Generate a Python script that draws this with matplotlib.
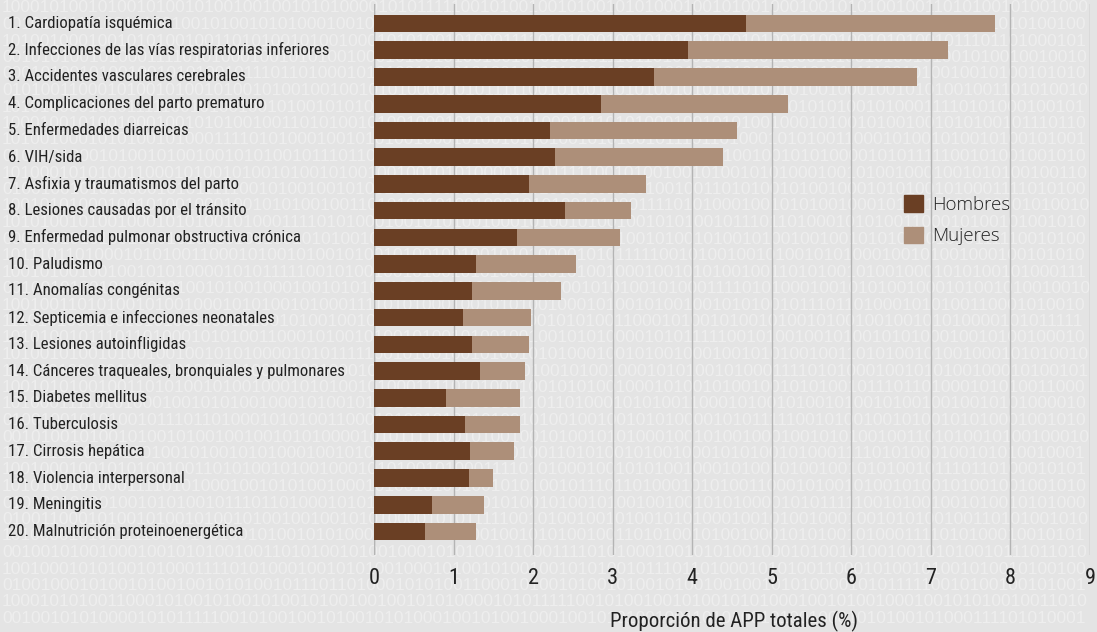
import matplotlib
matplotlib.use("Agg")
import matplotlib.pyplot as plt
import matplotlib.transforms as mtransforms
from matplotlib.patches import Patch

causas = [
    "1. Cardiopatía isquémica",
    "2. Infecciones de las vías respiratorias inferiores",
    "3. Accidentes vasculares cerebrales",
    "4. Complicaciones del parto prematuro",
    "5. Enfermedades diarreicas",
    "6. VIH/sida",
    "7. Asfixia y traumatismos del parto",
    "8. Lesiones causadas por el tránsito",
    "9. Enfermedad pulmonar obstructiva crónica",
    "10. Paludismo",
    "11. Anomalías congénitas",
    "12. Septicemia e infecciones neonatales",
    "13. Lesiones autoinfligidas",
    "14. Cánceres traqueales, bronquiales y pulmonares",
    "15. Diabetes mellitus",
    "16. Tuberculosis",
    "17. Cirrosis hepática",
    "18. Violencia interpersonal",
    "19. Meningitis",
    "20. Malnutrición proteinoenergética",
]
hombres = [4.67, 3.95, 3.52, 2.85, 2.21, 2.27, 1.95, 2.40, 1.80, 1.28,
           1.23, 1.12, 1.23, 1.33, 0.91, 1.14, 1.21, 1.19, 0.73, 0.64]
total = [7.81, 7.22, 6.82, 5.20, 4.56, 4.39, 3.42, 3.23, 3.09, 2.54,
         2.35, 1.97, 1.95, 1.90, 1.83, 1.83, 1.76, 1.50, 1.38, 1.28]
mujeres = [t - h for t, h in zip(total, hombres)]
ticks = list(range(10))

c_hom = "#6a3f24"
c_muj = "#ad8f79"
cond = ["Roboto Condensed", "DejaVu Sans"]
txt_col = "#222222"

fig = plt.figure(figsize=(10.97, 6.32), dpi=100, facecolor="#e4e4e4")

# fondo de ceros y unos
bits = ("1000101001010010100101001001001010100001010111110010100100101001"
        "0101000100101001000100101010010011010100101001000101010010100011"
        "1101010001001010100100010100101001001010100101110110100010101001")
for i in range(38):
    off = (i * 37) % len(bits)
    row = (bits[off:] + bits + bits)[:113]
    fig.text(2 / 1097, 1 - (i * 16.5 + 8) / 632, row, color="#eeeeee",
             fontsize=12.5, family="Liberation Sans", va="center",
             ha="left", zorder=-5)

ax = fig.add_axes([374 / 1097, 1 - 555 / 632, (1090 - 374) / 1097, 551 / 632])
ax.patch.set_alpha(0)
y = list(range(len(causas)))
ax.barh(y, hombres, height=0.66, color=c_hom, zorder=3)
ax.barh(y, mujeres, left=hombres, height=0.66, color=c_muj, zorder=3)

ax.set_xlim(0, 9)
ax.set_ylim(19.88, -0.73)
ax.set_xticks(ticks)
ax.set_xticklabels([str(t) for t in ticks], family=cond, fontsize=16, color=txt_col)
ax.set_yticks([])
ax.tick_params(axis="x", length=0, pad=9)
for s in ax.spines.values():
    s.set_visible(False)
ax.grid(axis="x", color="#b4b4b4", linewidth=1, zorder=1)
ax.axvline(0, color="#b4b4b4", linewidth=1, zorder=1)

trans = mtransforms.blended_transform_factory(fig.transFigure, ax.transData)
for yi, c in zip(y, causas):
    ax.text(8 / 1097, yi, c, transform=trans, ha="left", va="center",
            family=cond, fontsize=12.1, color=txt_col)

fig.text(734 / 1097, 1 - 621 / 632, "Proporción de APP totales (%)", family=cond,
         fontsize=15, color=txt_col, ha="center", va="center")

handles = [Patch(color=c_hom, label="Hombres"), Patch(color=c_muj, label="Mujeres")]
leg = ax.legend(handles=handles, loc="upper left",
                bbox_to_anchor=((904 - 374) / 716, 1 - (195 - 4) / 551),
                frameon=False, prop={"family": ["Open Sans", "DejaVu Sans"], "weight": "light", "size": 13.5},
                handlelength=1.0, handleheight=1.0, handletextpad=0.5, labelspacing=0.68,
                borderaxespad=0, borderpad=0)
for t in leg.get_texts():
    t.set_color(txt_col)

fig.savefig("out.png", dpi=100, facecolor=fig.get_facecolor())
